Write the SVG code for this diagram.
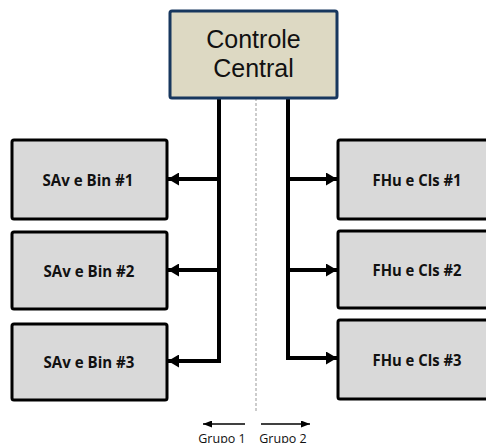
<svg xmlns="http://www.w3.org/2000/svg" width="486" height="443" viewBox="0 0 486 443">
<defs>
<marker id="ah" markerWidth="11" markerHeight="13" refX="11" refY="6.5" orient="auto" markerUnits="userSpaceOnUse">
<path d="M0,0 L11,6.5 L0,13 Z" fill="#000"/>
</marker>
<marker id="ahs" markerWidth="9" markerHeight="7" refX="9" refY="3.5" orient="auto" markerUnits="userSpaceOnUse">
<path d="M0,0 L9,3.5 L0,7 Z" fill="#000"/>
</marker>
</defs>
<style>
.box{fill:#D9D9D9;stroke:#000;stroke-width:3}
.lbl{font-family:"Open Sans","Liberation Sans",sans-serif;font-weight:bold;font-size:16px;fill:#111;text-anchor:middle}
.ctr{font-family:"Liberation Sans","Open Sans",sans-serif;font-size:25px;fill:#111;text-anchor:middle}
.grp{font-family:"Open Sans","Liberation Sans",sans-serif;font-size:12.5px;fill:#111;text-anchor:middle}
.conn{stroke:#000;stroke-width:4;fill:none}
.ar{stroke:#000;stroke-width:4;fill:none;marker-end:url(#ah)}
.thin{stroke:#000;stroke-width:1.5;fill:none;marker-end:url(#ahs)}
</style>
<rect width="486" height="443" fill="#fff"/>
<g id="connectors">
<line x1="256" y1="98" x2="256" y2="413" stroke="#999" stroke-width="1" stroke-dasharray="3,2"/>
<line class="conn" x1="219" y1="98" x2="219" y2="363"/>
<line class="conn" x1="288" y1="98" x2="288" y2="360"/>
<line class="ar" x1="221" y1="179" x2="168" y2="179"/>
<line class="ar" x1="221" y1="270" x2="168" y2="270"/>
<line class="ar" x1="221" y1="361" x2="168" y2="361"/>
<line class="ar" x1="286" y1="179" x2="337" y2="179"/>
<line class="ar" x1="286" y1="270" x2="337" y2="270"/>
<line class="ar" x1="286" y1="358" x2="337" y2="358"/>
<line class="thin" x1="245" y1="424" x2="203" y2="424"/>
<line class="thin" x1="261" y1="424" x2="310" y2="424"/>
</g>
<g id="controle">
<rect x="170" y="11" width="167" height="87" rx="2" fill="#DDD9C3" stroke="#17375E" stroke-width="3"/>
<text class="ctr" x="253.5" y="48">Controle</text>
<text class="ctr" x="253.5" y="77">Central</text>
</g>
<g id="sav1"><rect class="box" x="12" y="140" width="155" height="79" rx="2"/><text class="lbl" x="88" y="186" textLength="91" lengthAdjust="spacingAndGlyphs">SAv e Bin #1</text></g>
<g id="sav2"><rect class="box" x="12" y="232" width="155" height="77" rx="2"/><text class="lbl" x="89" y="277" textLength="91" lengthAdjust="spacingAndGlyphs">SAv e Bin #2</text></g>
<g id="sav3"><rect class="box" x="12" y="324" width="155" height="76" rx="2"/><text class="lbl" x="89" y="368" textLength="91" lengthAdjust="spacingAndGlyphs">SAv e Bin #3</text></g>
<g id="fhu1"><rect class="box" x="338" y="140" width="156" height="79" rx="2"/><text class="lbl" x="417" y="186" textLength="89" lengthAdjust="spacingAndGlyphs">FHu e Cls #1</text></g>
<g id="fhu2"><rect class="box" x="338" y="231" width="156" height="77" rx="2"/><text class="lbl" x="417" y="276" textLength="89" lengthAdjust="spacingAndGlyphs">FHu e Cls #2</text></g>
<g id="fhu3"><rect class="box" x="338" y="320" width="156" height="79" rx="2"/><text class="lbl" x="417" y="366" textLength="89" lengthAdjust="spacingAndGlyphs">FHu e Cls #3</text></g>
<g id="grupos">
<text class="grp" x="222" y="443">Grupo 1</text>
<text class="grp" x="283" y="443">Grupo 2</text>
</g>
</svg>
